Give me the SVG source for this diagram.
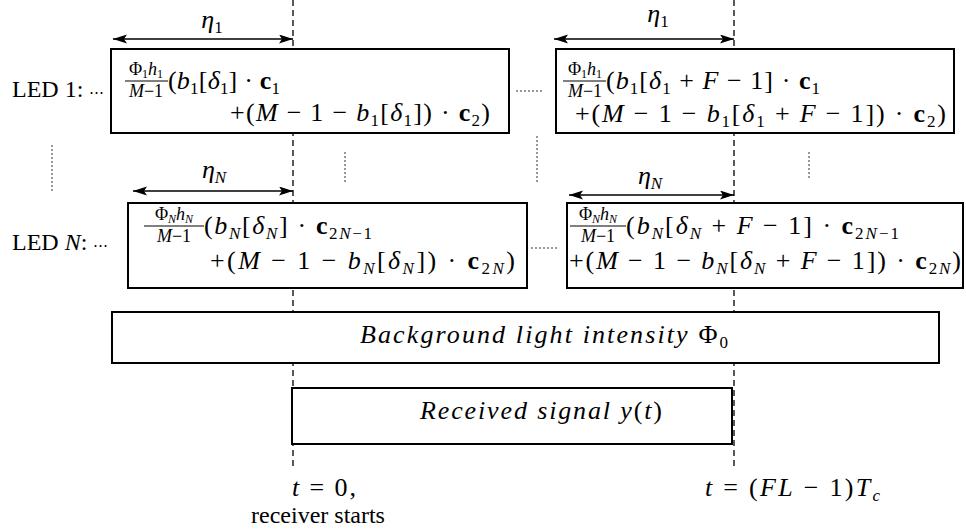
<svg xmlns="http://www.w3.org/2000/svg" width="966" height="531" viewBox="0 0 966 531" font-family="Liberation Serif">
<style>
.m,.lab,.f,.s,.fs,.i,.b,.t{font-family:'Liberation Serif',serif}
.m{font-size:26px}
.lab{font-size:24px}
.f{font-size:18px}
.i{font-style:italic}
.b{font-weight:bold}
.s{font-size:17px;baseline-shift:-5px}
.fs{font-size:12px;baseline-shift:-3px}
.cd{font-family:'DejaVu Serif',serif;font-size:15px}
.box{fill:#fff;stroke:#000;stroke-width:2}
.bar{stroke:#000;stroke-width:1}
.dash{stroke:#000;stroke-width:1.3;stroke-dasharray:6 4;fill:none}
.dot{stroke:#000;stroke-width:1.5;stroke-linecap:round;stroke-dasharray:0 4;fill:none}
.arr{stroke:#000;stroke-width:1.3;fill:none;marker-start:url(#ah);marker-end:url(#ah)}
</style>
<defs>
<marker id="ah" markerUnits="userSpaceOnUse" markerWidth="15" markerHeight="10" refX="14" refY="4.5" orient="auto-start-reverse">
<path d="M0,0 L14,4.5 L0,9 L3,4.5 Z" fill="#000"/>
</marker>
</defs>
<rect width="966" height="531" fill="#fff"/>

<g id="connectors">
<line class="dash" x1="293" y1="0" x2="293" y2="470"/>
<line class="dash" x1="734" y1="0" x2="734" y2="470"/>
<line class="arr" x1="113" y1="39" x2="293" y2="39"/>
<line class="arr" x1="554" y1="39" x2="734" y2="39"/>
<line class="arr" x1="133" y1="191" x2="293" y2="191"/>
<line class="arr" x1="569" y1="195" x2="734" y2="195"/>
<line class="dot" x1="52" y1="146" x2="52" y2="193"/>
<line class="dot" x1="345" y1="153" x2="345" y2="182"/>
<line class="dot" x1="537" y1="137" x2="537" y2="183"/>
<line class="dot" x1="809" y1="153" x2="809" y2="181"/>
<line class="dot" x1="517" y1="91" x2="545" y2="91"/>
<line class="dot" x1="532" y1="248" x2="560" y2="248"/>
</g>

<g id="eta-labels">
<text class="m i" font-family="Liberation Serif" x="212" y="28" text-anchor="middle">η<tspan class="s" font-style="normal">1</tspan></text>
<text class="m i" font-family="Liberation Serif" x="658" y="22" text-anchor="middle">η<tspan class="s" font-style="normal">1</tspan></text>
<text class="m i" font-family="Liberation Serif" x="214" y="178" text-anchor="middle">η<tspan class="s">N</tspan></text>
<text class="m i" font-family="Liberation Serif" x="650" y="184" text-anchor="middle">η<tspan class="s">N</tspan></text>
</g>

<g id="led-labels">
<text class="lab" font-family="Liberation Serif" x="12" y="97">LED 1: <tspan class="cd" font-family="DejaVu Serif">⋯</tspan></text>
<text class="lab" font-family="Liberation Serif" x="12" y="250">LED <tspan class="i">N</tspan>: <tspan class="cd" font-family="DejaVu Serif">⋯</tspan></text>
</g>

<g id="led1-box1">
<rect class="box" x="111" y="49" width="398" height="84"/>
<text class="f" font-family="Liberation Serif" x="146" y="75" text-anchor="middle">Φ<tspan class="fs">1</tspan><tspan class="i">h</tspan><tspan class="fs">1</tspan></text>
<line class="bar" x1="125" y1="81" x2="168" y2="81"/>
<text class="f" font-family="Liberation Serif" x="146" y="97" text-anchor="middle"><tspan class="i">M</tspan>−1</text>
<text class="m" font-family="Liberation Serif" x="168" y="89" textLength="112" lengthAdjust="spacing">(<tspan class="i">b</tspan><tspan class="s">1</tspan>[<tspan class="i">δ</tspan><tspan class="s">1</tspan>] · <tspan class="b">c</tspan><tspan class="s">1</tspan></text>
<text class="m" font-family="Liberation Serif" x="230" y="121" textLength="260" lengthAdjust="spacing">+(<tspan class="i">M</tspan> − 1 − <tspan class="i">b</tspan><tspan class="s">1</tspan>[<tspan class="i">δ</tspan><tspan class="s">1</tspan>]) · <tspan class="b">c</tspan><tspan class="s">2</tspan>)</text>
</g>

<g id="led1-box2">
<rect class="box" x="556" y="49" width="398" height="84"/>
<text class="f" font-family="Liberation Serif" x="585" y="75" text-anchor="middle">Φ<tspan class="fs">1</tspan><tspan class="i">h</tspan><tspan class="fs">1</tspan></text>
<line class="bar" x1="563" y1="81" x2="606" y2="81"/>
<text class="f" font-family="Liberation Serif" x="585" y="97" text-anchor="middle"><tspan class="i">M</tspan>−1</text>
<text class="m" font-family="Liberation Serif" x="606" y="89" textLength="214" lengthAdjust="spacing">(<tspan class="i">b</tspan><tspan class="s">1</tspan>[<tspan class="i">δ</tspan><tspan class="s">1</tspan> + <tspan class="i">F</tspan> − 1] · <tspan class="b">c</tspan><tspan class="s">1</tspan></text>
<text class="m" font-family="Liberation Serif" x="575" y="122" textLength="371" lengthAdjust="spacing">+(<tspan class="i">M</tspan> − 1 − <tspan class="i">b</tspan><tspan class="s">1</tspan>[<tspan class="i">δ</tspan><tspan class="s">1</tspan> + <tspan class="i">F</tspan> − 1]) · <tspan class="b">c</tspan><tspan class="s">2</tspan>)</text>
</g>

<g id="ledN-box1">
<rect class="box" x="128" y="203" width="399" height="85"/>
<text class="f" font-family="Liberation Serif" x="174" y="220" text-anchor="middle">Φ<tspan class="fs i">N</tspan><tspan class="i">h</tspan><tspan class="fs i">N</tspan></text>
<line class="bar" x1="144" y1="226" x2="204" y2="226"/>
<text class="f" font-family="Liberation Serif" x="174" y="242" text-anchor="middle"><tspan class="i">M</tspan>−1</text>
<text class="m" font-family="Liberation Serif" x="204" y="234" textLength="168" lengthAdjust="spacing">(<tspan class="i">b</tspan><tspan class="s i">N</tspan>[<tspan class="i">δ</tspan><tspan class="s i">N</tspan>] · <tspan class="b">c</tspan><tspan class="s">2<tspan class="i">N</tspan>−1</tspan></text>
<text class="m" font-family="Liberation Serif" x="210" y="269" textLength="305" lengthAdjust="spacing">+(<tspan class="i">M</tspan> − 1 − <tspan class="i">b</tspan><tspan class="s i">N</tspan>[<tspan class="i">δ</tspan><tspan class="s i">N</tspan>]) · <tspan class="b">c</tspan><tspan class="s">2<tspan class="i">N</tspan></tspan>)</text>
</g>

<g id="ledN-box2">
<rect class="box" x="567" y="203" width="396" height="85"/>
<text class="f" font-family="Liberation Serif" x="598" y="220" text-anchor="middle">Φ<tspan class="fs i">N</tspan><tspan class="i">h</tspan><tspan class="fs i">N</tspan></text>
<line class="bar" x1="570" y1="226" x2="626" y2="226"/>
<text class="f" font-family="Liberation Serif" x="598" y="242" text-anchor="middle"><tspan class="i">M</tspan>−1</text>
<text class="m" font-family="Liberation Serif" x="626" y="234" textLength="273" lengthAdjust="spacing">(<tspan class="i">b</tspan><tspan class="s i">N</tspan>[<tspan class="i">δ</tspan><tspan class="s i">N</tspan> + <tspan class="i">F</tspan> − 1] · <tspan class="b">c</tspan><tspan class="s">2<tspan class="i">N</tspan>−1</tspan></text>
<text class="m" font-family="Liberation Serif" x="569" y="269" textLength="392" lengthAdjust="spacing">+(<tspan class="i">M</tspan> − 1 − <tspan class="i">b</tspan><tspan class="s i">N</tspan>[<tspan class="i">δ</tspan><tspan class="s i">N</tspan> + <tspan class="i">F</tspan> − 1]) · <tspan class="b">c</tspan><tspan class="s">2<tspan class="i">N</tspan></tspan>)</text>
</g>

<g id="background">
<rect class="box" x="112" y="312" width="827" height="51"/>
<text class="m i" font-family="Liberation Serif" x="360" y="343" textLength="368" lengthAdjust="spacing">Background light intensity <tspan font-style="normal">Φ</tspan><tspan class="s" font-style="normal">0</tspan></text>
</g>

<g id="received">
<rect class="box" x="292" y="388" width="440" height="56"/>
<text class="m i" font-family="Liberation Serif" x="420" y="419" textLength="242" lengthAdjust="spacing">Received signal y<tspan font-style="normal">(</tspan>t<tspan font-style="normal">)</tspan></text>
</g>

<g id="time-labels">
<text class="m" font-family="Liberation Serif" x="292" y="496" textLength="64" lengthAdjust="spacing"><tspan class="i">t</tspan> = 0,</text>
<text class="t" font-family="Liberation Serif" x="318" y="523" text-anchor="middle" font-size="24">receiver starts</text>
<text class="m" font-family="Liberation Serif" x="705" y="496" textLength="175" lengthAdjust="spacing"><tspan class="i">t</tspan> = (<tspan class="i">FL</tspan> − 1)<tspan class="i">T</tspan><tspan class="s i">c</tspan></text>
</g>
</svg>
